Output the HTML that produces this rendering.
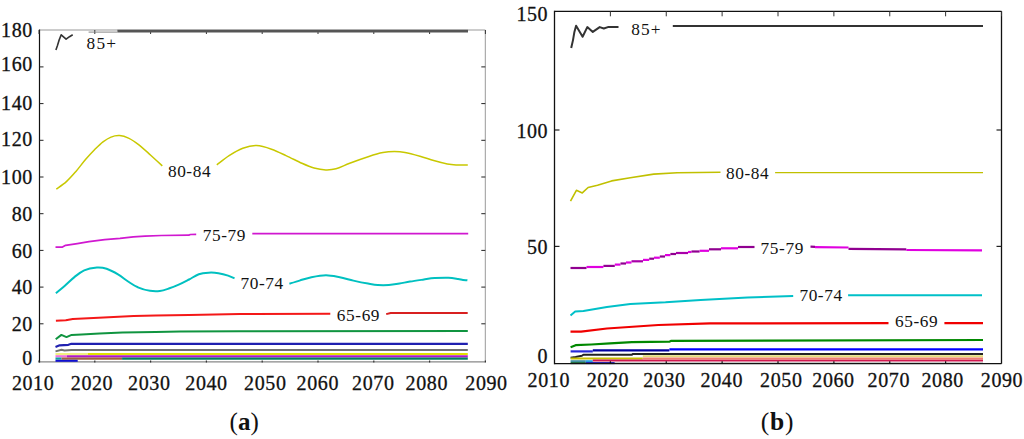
<!DOCTYPE html>
<html><head><meta charset="utf-8"><title>Chart</title>
<style>
html,body{margin:0;padding:0;background:#fff;}
body{width:1024px;height:439px;overflow:hidden;}
svg{display:block;}
text{font-family:"Liberation Serif",serif;fill:#111;}
.ax{letter-spacing:0.6px;stroke:#111;stroke-width:0.3px;}
.cl{letter-spacing:0.6px;}
text.s{font-family:"Liberation Sans",sans-serif;letter-spacing:0;}
</style></head>
<body>
<svg width="1024" height="439" viewBox="0 0 1024 439">
<rect width="1024" height="439" fill="#fff"/>
<line x1="39.5" y1="30" x2="485.3" y2="30" stroke="#999" stroke-width="1"/>
<line x1="485.3" y1="30" x2="485.3" y2="361.5" stroke="#999" stroke-width="1"/>
<line x1="39.5" y1="361.9" x2="485.3" y2="361.9" stroke="#888" stroke-width="1.3"/>
<line x1="39.5" y1="29.5" x2="39.5" y2="362.6" stroke="#111" stroke-width="1.2"/>
<line x1="39.5" y1="66.9" x2="43.5" y2="66.9" stroke="#222" stroke-width="1"/>
<line x1="481.3" y1="66.9" x2="485.3" y2="66.9" stroke="#222" stroke-width="1"/>
<line x1="39.5" y1="103.6" x2="43.5" y2="103.6" stroke="#222" stroke-width="1"/>
<line x1="481.3" y1="103.6" x2="485.3" y2="103.6" stroke="#222" stroke-width="1"/>
<line x1="39.5" y1="140.3" x2="43.5" y2="140.3" stroke="#222" stroke-width="1"/>
<line x1="481.3" y1="140.3" x2="485.3" y2="140.3" stroke="#222" stroke-width="1"/>
<line x1="39.5" y1="177" x2="43.5" y2="177" stroke="#222" stroke-width="1"/>
<line x1="481.3" y1="177" x2="485.3" y2="177" stroke="#222" stroke-width="1"/>
<line x1="39.5" y1="213.7" x2="43.5" y2="213.7" stroke="#222" stroke-width="1"/>
<line x1="481.3" y1="213.7" x2="485.3" y2="213.7" stroke="#222" stroke-width="1"/>
<line x1="39.5" y1="250.4" x2="43.5" y2="250.4" stroke="#222" stroke-width="1"/>
<line x1="481.3" y1="250.4" x2="485.3" y2="250.4" stroke="#222" stroke-width="1"/>
<line x1="39.5" y1="287.1" x2="43.5" y2="287.1" stroke="#222" stroke-width="1"/>
<line x1="481.3" y1="287.1" x2="485.3" y2="287.1" stroke="#222" stroke-width="1"/>
<line x1="39.5" y1="323.8" x2="43.5" y2="323.8" stroke="#222" stroke-width="1"/>
<line x1="481.3" y1="323.8" x2="485.3" y2="323.8" stroke="#222" stroke-width="1"/>
<line x1="39" y1="30" x2="39" y2="34" stroke="#333" stroke-width="1"/>
<line x1="39" y1="360.4" x2="39" y2="362.6" stroke="#333" stroke-width="1.2"/>
<line x1="94.8" y1="30" x2="94.8" y2="34" stroke="#333" stroke-width="1"/>
<line x1="94.8" y1="360.4" x2="94.8" y2="362.6" stroke="#333" stroke-width="1.2"/>
<line x1="150.6" y1="30" x2="150.6" y2="34" stroke="#333" stroke-width="1"/>
<line x1="150.6" y1="360.4" x2="150.6" y2="362.6" stroke="#333" stroke-width="1.2"/>
<line x1="206.4" y1="30" x2="206.4" y2="34" stroke="#333" stroke-width="1"/>
<line x1="206.4" y1="360.4" x2="206.4" y2="362.6" stroke="#333" stroke-width="1.2"/>
<line x1="262.2" y1="30" x2="262.2" y2="34" stroke="#333" stroke-width="1"/>
<line x1="262.2" y1="360.4" x2="262.2" y2="362.6" stroke="#333" stroke-width="1.2"/>
<line x1="318" y1="30" x2="318" y2="34" stroke="#333" stroke-width="1"/>
<line x1="318" y1="360.4" x2="318" y2="362.6" stroke="#333" stroke-width="1.2"/>
<line x1="373.8" y1="30" x2="373.8" y2="34" stroke="#333" stroke-width="1"/>
<line x1="373.8" y1="360.4" x2="373.8" y2="362.6" stroke="#333" stroke-width="1.2"/>
<line x1="429.6" y1="30" x2="429.6" y2="34" stroke="#333" stroke-width="1"/>
<line x1="429.6" y1="360.4" x2="429.6" y2="362.6" stroke="#333" stroke-width="1.2"/>
<line x1="485.4" y1="30" x2="485.4" y2="34" stroke="#333" stroke-width="1"/>
<line x1="485.4" y1="360.4" x2="485.4" y2="362.6" stroke="#333" stroke-width="1.2"/>
<text x="32.9" y="37.25" font-size="20" text-anchor="end"  class="ax">180</text>
<text x="32.9" y="71.1" font-size="20" text-anchor="end"  class="ax">160</text>
<text x="32.9" y="109.8" font-size="20" text-anchor="end"  class="ax">140</text>
<text x="32.9" y="146.2" font-size="20" text-anchor="end"  class="ax">120</text>
<text x="32.9" y="184.2" font-size="20" text-anchor="end"  class="ax">100</text>
<text x="32.9" y="221.4" font-size="20" text-anchor="end"  class="ax">80</text>
<text x="32.9" y="258.25" font-size="20" text-anchor="end"  class="ax">60</text>
<text x="32.9" y="294.4" font-size="20" text-anchor="end"  class="ax">40</text>
<text x="32.9" y="331.1" font-size="20" text-anchor="end"  class="ax">20</text>
<text x="32.9" y="365.3" font-size="20" text-anchor="end"  class="ax">0</text>
<text x="33.1" y="389.6" font-size="20" text-anchor="middle"  class="ax">2010</text>
<text x="92.0" y="389.6" font-size="20" text-anchor="middle"  class="ax">2020</text>
<text x="149.3" y="389.6" font-size="20" text-anchor="middle"  class="ax">2030</text>
<text x="206.5" y="389.6" font-size="20" text-anchor="middle"  class="ax">2040</text>
<text x="265.3" y="389.6" font-size="20" text-anchor="middle"  class="ax">2050</text>
<text x="317.8" y="389.6" font-size="20" text-anchor="middle"  class="ax">2060</text>
<text x="373.3" y="389.6" font-size="20" text-anchor="middle"  class="ax">2070</text>
<text x="426.8" y="389.6" font-size="20" text-anchor="middle"  class="ax">2080</text>
<text x="486.5" y="389.6" font-size="20" text-anchor="middle"  class="ax">2090</text>
<polyline points="55.9,49.9 57.3,46.0 59.3,39.6 61.2,34.8 66.1,39.2 69.5,36.7 72.7,34.8" fill="none" stroke="#333" stroke-width="1.6" stroke-linejoin="round" stroke-linecap="butt" />
<line x1="88.6" y1="32.1" x2="117.4" y2="32.1" stroke="#777" stroke-width="0.9"/>
<line x1="117.4" y1="31.1" x2="468" y2="31.1" stroke="#555" stroke-width="2.6"/>
<path d="M56.3,189.2 C58.0,187.9 63.1,184.5 66.4,181.6 C69.7,178.7 72.7,175.2 75.9,171.5 C79.1,167.8 82.4,163.2 85.5,159.6 C88.6,156.0 91.6,152.8 94.5,149.8 C97.4,146.9 100.2,144.0 103.0,141.9 C105.8,139.8 108.2,138.2 111.0,137.1 C113.8,136.0 116.7,135.4 119.6,135.6 C122.5,135.8 125.3,136.6 128.5,138.1 C131.7,139.6 135.2,142.0 138.9,144.8 C142.6,147.7 146.8,151.7 150.7,155.2 C154.6,158.7 160.4,164.1 162.3,165.9" fill="none" stroke="#c8c800" stroke-width="1.5" stroke-linejoin="round"/>
<path d="M216.8,164.9 C218.9,163.4 224.8,158.5 229.1,155.7 C233.4,152.9 238.2,150.0 242.8,148.3 C247.4,146.6 251.6,145.4 256.4,145.6 C261.2,145.8 266.6,147.5 271.5,149.2 C276.4,150.9 280.9,153.2 286.0,155.6 C291.1,157.9 297.2,161.2 301.9,163.3 C306.6,165.4 310.0,166.9 314.0,168.0 C318.0,169.1 322.1,169.8 325.8,169.9 C329.5,170.0 332.0,169.9 336.0,168.8 C340.0,167.7 344.2,165.4 349.7,163.3 C355.2,161.2 363.3,158.3 368.9,156.5 C374.4,154.7 378.8,153.4 383.0,152.6 C387.2,151.8 390.7,151.6 394.4,151.6 C398.1,151.6 400.7,151.7 405.0,152.5 C409.3,153.3 415.2,154.9 420.0,156.2 C424.8,157.5 429.1,159.2 433.7,160.5 C438.2,161.8 443.6,163.2 447.3,163.9 C451.0,164.6 452.6,164.7 456.0,164.9 C459.4,165.1 465.8,164.9 467.8,164.9" fill="none" stroke="#c8c800" stroke-width="1.5" stroke-linejoin="round"/>
<polyline points="55.5,247.1 62.5,247.1 65.6,245.3 77.3,243.6 89.0,241.7 104.7,239.7 120.0,238.4 133.3,236.9 145.0,236.2 161.4,235.5 188.8,235.2 190.3,234.5 196.2,234.4" fill="none" stroke="#d018d0" stroke-width="1.7" stroke-linejoin="round" stroke-linecap="butt" />
<polyline points="252.3,233.6 468.2,233.6" fill="none" stroke="#d018d0" stroke-width="1.9" stroke-linejoin="round" stroke-linecap="butt" />
<path d="M55.9,293.2 C57.3,292.0 61.5,288.6 64.6,285.9 C67.7,283.2 71.1,279.7 74.4,277.1 C77.7,274.5 80.5,271.9 84.2,270.3 C88.0,268.7 93.2,267.9 96.9,267.6 C100.6,267.4 103.0,267.6 106.6,268.8 C110.2,270.0 114.8,272.5 118.4,274.6 C122.0,276.7 124.8,279.4 128.1,281.5 C131.3,283.6 134.2,285.8 137.9,287.3 C141.6,288.9 146.3,290.2 150.0,290.8 C153.7,291.4 156.6,291.4 159.8,291.0 C163.1,290.6 166.2,289.4 169.5,288.3 C172.8,287.2 176.0,285.9 179.3,284.4 C182.6,282.9 185.8,281.2 189.1,279.5 C192.3,277.8 195.6,275.3 198.8,274.2 C202.1,273.1 205.3,272.9 208.6,272.7 C211.9,272.5 215.2,272.7 218.4,273.2 C221.7,273.7 225.4,274.7 228.1,275.6 C230.8,276.5 233.4,277.9 234.5,278.4" fill="none" stroke="#00c0c0" stroke-width="2" stroke-linejoin="round"/>
<path d="M289.4,283.8 C291.1,283.2 295.9,281.7 299.6,280.6 C303.3,279.5 307.0,278.1 311.4,277.2 C315.8,276.3 321.3,275.2 326.0,275.2 C330.7,275.2 335.1,276.3 339.7,277.2 C344.3,278.1 348.7,279.5 353.4,280.6 C358.1,281.7 363.9,282.9 368.0,283.6 C372.1,284.3 374.3,284.8 377.8,285.0 C381.3,285.2 385.2,285.2 388.8,285.0 C392.4,284.8 396.0,284.1 399.5,283.5 C403.0,282.9 405.9,282.3 410.0,281.6 C414.1,280.9 419.8,280.1 423.9,279.5 C428.0,278.9 430.6,278.4 434.7,278.1 C438.8,277.8 444.5,277.6 448.4,277.7 C452.3,277.8 455.7,278.6 458.1,279.0 C460.5,279.4 461.4,279.8 463.0,280.0 C464.6,280.2 466.7,280.2 467.4,280.3" fill="none" stroke="#00c0c0" stroke-width="2" stroke-linejoin="round"/>
<polyline points="55.9,320.8 65.8,320.3 72.8,318.9 98.6,317.7 133.7,316.1 155.6,315.4 189.0,315.0 240.0,314.1 330.3,313.8" fill="none" stroke="#f41818" stroke-width="2" stroke-linejoin="round" stroke-linecap="butt" />
<polyline points="386.2,314.1 390.7,313.0 467.7,313.0" fill="none" stroke="#d82020" stroke-width="2" stroke-linejoin="round" stroke-linecap="butt" />
<polyline points="55.7,339.2 61.4,334.9 66.5,337.1 71.6,334.9 81.7,334.5 99.5,333.6 122.4,332.6 155.4,332.0 180.0,331.4 239.2,331.2 467.8,330.9" fill="none" stroke="#109440" stroke-width="2" stroke-linejoin="round" stroke-linecap="butt" />
<polyline points="55.5,346.9 59.6,345.3 68.4,344.8 71.4,343.8 467.8,343.8" fill="none" stroke="#2020b0" stroke-width="2.2" stroke-linejoin="round" stroke-linecap="butt" />
<polyline points="55.5,351.4 61.6,349.8 64.5,350.4 71.4,350.1 467.8,350.1" fill="none" stroke="#707070" stroke-width="2" stroke-linejoin="round" stroke-linecap="butt" />
<line x1="55.5" y1="354.1" x2="88" y2="354.1" stroke="#f0f080" stroke-width="2.2"/>
<line x1="88" y1="354" x2="467.8" y2="354" stroke="#e0e000" stroke-width="2.2"/>
<line x1="55.5" y1="356.3" x2="67" y2="356.3" stroke="#f070e0" stroke-width="2.2"/>
<line x1="67" y1="356.3" x2="467.8" y2="356.3" stroke="#b018c8" stroke-width="2.2"/>
<line x1="55.5" y1="358.6" x2="61.6" y2="358.6" stroke="#10a0a0" stroke-width="2.2"/>
<line x1="61.6" y1="358.6" x2="122.1" y2="358.6" stroke="#a06040" stroke-width="2.2"/>
<line x1="122.1" y1="358.6" x2="467.8" y2="358.6" stroke="#008060" stroke-width="2.2"/>
<line x1="55.5" y1="360.8" x2="77.7" y2="360.8" stroke="#1010d0" stroke-width="2"/>
<text x="86.6" y="49.4" font-size="17.3" text-anchor="start" style="letter-spacing:1.2px" class="cl">85+</text>
<text x="167.9" y="177.4" font-size="17.3" text-anchor="start"  class="cl">80-84</text>
<text x="202.7" y="241" font-size="17.3" text-anchor="start"  class="cl">75-79</text>
<text x="240.5" y="289.2" font-size="17.3" text-anchor="start"  class="cl">70-74</text>
<text x="336.8" y="321.4" font-size="17.3" text-anchor="start"  class="cl">65-69</text>
<line x1="554.5" y1="11.3" x2="1001.5" y2="11.3" stroke="#111" stroke-width="1.3"/>
<line x1="1001.5" y1="11.3" x2="1001.5" y2="363.7" stroke="#111" stroke-width="1.3"/>
<line x1="554.5" y1="130" x2="559.5" y2="130" stroke="#222" stroke-width="1.2"/>
<line x1="996.5" y1="130" x2="1001.5" y2="130" stroke="#222" stroke-width="1.2"/>
<line x1="554.5" y1="246.4" x2="559.5" y2="246.4" stroke="#222" stroke-width="1.2"/>
<line x1="996.5" y1="246.4" x2="1001.5" y2="246.4" stroke="#222" stroke-width="1.2"/>
<line x1="554.5" y1="11.3" x2="554.5" y2="16.3" stroke="#333" stroke-width="1"/>
<line x1="610.38" y1="11.3" x2="610.38" y2="16.3" stroke="#333" stroke-width="1"/>
<line x1="666.25" y1="11.3" x2="666.25" y2="16.3" stroke="#333" stroke-width="1"/>
<line x1="722.12" y1="11.3" x2="722.12" y2="16.3" stroke="#333" stroke-width="1"/>
<line x1="778" y1="11.3" x2="778" y2="16.3" stroke="#333" stroke-width="1"/>
<line x1="833.88" y1="11.3" x2="833.88" y2="16.3" stroke="#333" stroke-width="1"/>
<line x1="889.75" y1="11.3" x2="889.75" y2="16.3" stroke="#333" stroke-width="1"/>
<line x1="945.62" y1="11.3" x2="945.62" y2="16.3" stroke="#333" stroke-width="1"/>
<line x1="1001.5" y1="11.3" x2="1001.5" y2="16.3" stroke="#333" stroke-width="1"/>
<text x="548.2" y="20.6" font-size="20" text-anchor="end"  class="ax">150</text>
<text x="548.2" y="138.25" font-size="20" text-anchor="end"  class="ax">100</text>
<text x="548.2" y="254.4" font-size="20" text-anchor="end"  class="ax">50</text>
<text x="548.2" y="362.5" font-size="20" text-anchor="end"  class="ax">0</text>
<text x="548.8" y="387.3" font-size="20" text-anchor="middle"  class="ax">2010</text>
<text x="607.9" y="387.3" font-size="20" text-anchor="middle"  class="ax">2020</text>
<text x="664.4" y="387.3" font-size="20" text-anchor="middle"  class="ax">2030</text>
<text x="721.8" y="387.3" font-size="20" text-anchor="middle"  class="ax">2040</text>
<text x="781.3" y="387.3" font-size="20" text-anchor="middle"  class="ax">2050</text>
<text x="833.5" y="387.3" font-size="20" text-anchor="middle"  class="ax">2060</text>
<text x="888.8" y="387.3" font-size="20" text-anchor="middle"  class="ax">2070</text>
<text x="942.7" y="387.3" font-size="20" text-anchor="middle"  class="ax">2080</text>
<text x="1002.0" y="387.3" font-size="20" text-anchor="middle"  class="ax">2090</text>
<polyline points="571.2,48.0 573.0,40.1 574.4,31.9 576.1,25.7 582.6,36.7 587.3,27.1 592.8,31.9 599.7,27.1 603.8,28.5 607.9,27.1 618.5,27.1" fill="none" stroke="#333" stroke-width="2" stroke-linejoin="round" stroke-linecap="butt" />
<line x1="672.8" y1="26" x2="983" y2="26" stroke="#333" stroke-width="2.2"/>
<polyline points="570.5,201.1 576.4,190.3 582.3,192.9 588.1,187.5 597.5,185.2 611.6,180.9 630.3,177.7 653.7,174.1 677.2,172.7 720.5,172.3" fill="none" stroke="#c0c000" stroke-width="1.6" stroke-linejoin="round" stroke-linecap="butt" />
<line x1="775.1" y1="172.6" x2="983" y2="172.6" stroke="#c0c000" stroke-width="1.3"/>
<line x1="570.5" y1="268" x2="586.5" y2="268" stroke="#900090" stroke-width="2.2"/>
<line x1="586.5" y1="267" x2="603.4" y2="267" stroke="#e000e0" stroke-width="2.2"/>
<line x1="603.4" y1="265.9" x2="614.8" y2="265.9" stroke="#900090" stroke-width="2.2"/>
<line x1="614.8" y1="264.6" x2="620.5" y2="264.6" stroke="#e000e0" stroke-width="2.2"/>
<line x1="620.5" y1="263.5" x2="626" y2="263.5" stroke="#900090" stroke-width="2.2"/>
<line x1="626" y1="262.5" x2="631.5" y2="262.5" stroke="#e000e0" stroke-width="2.2"/>
<line x1="631.5" y1="261.3" x2="643" y2="261.3" stroke="#a800a8" stroke-width="2.2"/>
<line x1="643" y1="259.9" x2="649.2" y2="259.9" stroke="#e000e0" stroke-width="2.2"/>
<line x1="649.2" y1="258.7" x2="654" y2="258.7" stroke="#900090" stroke-width="2.2"/>
<line x1="654" y1="257.7" x2="659.8" y2="257.7" stroke="#e000e0" stroke-width="2.2"/>
<line x1="659.8" y1="256.5" x2="665" y2="256.5" stroke="#900090" stroke-width="2.2"/>
<line x1="665" y1="255.1" x2="670.4" y2="255.1" stroke="#e000e0" stroke-width="2.2"/>
<line x1="670.4" y1="254" x2="676" y2="254" stroke="#900090" stroke-width="2.2"/>
<line x1="676" y1="253" x2="688" y2="253" stroke="#a800a8" stroke-width="2.2"/>
<line x1="688" y1="252" x2="691.5" y2="252" stroke="#e000e0" stroke-width="2.2"/>
<line x1="691.5" y1="251.5" x2="699.6" y2="251.5" stroke="#900090" stroke-width="2.2"/>
<line x1="699.6" y1="250.8" x2="709" y2="250.8" stroke="#e000e0" stroke-width="2.2"/>
<line x1="709" y1="249.3" x2="721" y2="249.3" stroke="#900090" stroke-width="2.2"/>
<line x1="721" y1="248.3" x2="738" y2="248.3" stroke="#e000e0" stroke-width="2.2"/>
<line x1="738" y1="247" x2="754.5" y2="247" stroke="#900090" stroke-width="2.2"/>
<polyline points="810.5,246.6 815.0,246.8" fill="none" stroke="#900090" stroke-width="2.2" stroke-linejoin="round" stroke-linecap="butt" />
<polyline points="815.0,247.2 848.5,247.5" fill="none" stroke="#e000e0" stroke-width="2.2" stroke-linejoin="round" stroke-linecap="butt" />
<polyline points="848.5,248.9 906.3,249.3" fill="none" stroke="#900090" stroke-width="2.2" stroke-linejoin="round" stroke-linecap="butt" />
<polyline points="906.3,250.0 982.0,250.3" fill="none" stroke="#e000e0" stroke-width="2.2" stroke-linejoin="round" stroke-linecap="butt" />
<polyline points="570.5,315.6 575.2,311.6 583.4,310.9 606.9,307.0 630.3,303.9 665.5,302.3 700.6,299.9 747.5,297.6 793.2,295.9" fill="none" stroke="#00c0c8" stroke-width="2" stroke-linejoin="round" stroke-linecap="butt" />
<line x1="848.1" y1="295.2" x2="982" y2="295.2" stroke="#00c0c8" stroke-width="2"/>
<polyline points="570.5,331.6 581.1,331.6 606.9,328.5 658.4,325.0 710.0,323.4 888.5,323.2" fill="none" stroke="#f00000" stroke-width="2.2" stroke-linejoin="round" stroke-linecap="butt" />
<line x1="944.4" y1="323.2" x2="983" y2="323.2" stroke="#f00000" stroke-width="2.2"/>
<polyline points="570.6,347.2 575.6,345.2 591.3,344.5 610.0,343.3 631.9,342.2 669.4,341.7 670.9,340.9 983.0,340.0" fill="none" stroke="#008800" stroke-width="2.2" stroke-linejoin="round" stroke-linecap="butt" />
<polyline points="570.6,351.4 592.8,351.4" fill="none" stroke="#2828d8" stroke-width="2.2" stroke-linejoin="round" stroke-linecap="butt" />
<polyline points="592.8,350.3 669.4,350.3" fill="none" stroke="#0000a0" stroke-width="2.2" stroke-linejoin="round" stroke-linecap="butt" />
<polyline points="669.4,349.4 983.0,349.4" fill="none" stroke="#0000ff" stroke-width="2.2" stroke-linejoin="round" stroke-linecap="butt" />
<polyline points="570.6,357.8 575.6,357.0 581.9,355.8 583.4,354.7 631.9,354.7 632.7,354.0 983.0,354.0" fill="none" stroke="#222" stroke-width="2" stroke-linejoin="round" stroke-linecap="butt" />
<line x1="570.6" y1="358.6" x2="642.8" y2="358.6" stroke="#c8c000" stroke-width="2"/>
<line x1="642.8" y1="356.3" x2="983" y2="356.3" stroke="#e4dc78" stroke-width="2"/>
<line x1="570.6" y1="361.2" x2="585.8" y2="361.2" stroke="#4090a0" stroke-width="2"/>
<line x1="585.8" y1="361.2" x2="592.8" y2="361.2" stroke="#20a0e0" stroke-width="2"/>
<line x1="592.8" y1="360.6" x2="983" y2="360.6" stroke="#d01850" stroke-width="2"/>
<line x1="642.8" y1="358.4" x2="983" y2="358.4" stroke="#f08070" stroke-width="2"/>
<line x1="614.7" y1="362.9" x2="983" y2="362.9" stroke="#b8b8b8" stroke-width="1.2"/>
<line x1="570.6" y1="363.1" x2="585.8" y2="363.1" stroke="#106030" stroke-width="2"/>
<line x1="585.8" y1="363.1" x2="614.7" y2="363.1" stroke="#1010a0" stroke-width="2"/>
<text x="631.2" y="35.4" font-size="17.3" text-anchor="start" style="letter-spacing:1.2px" class="cl">85+</text>
<text x="726" y="178.9" font-size="17.3" text-anchor="start"  class="cl">80-84</text>
<text x="760.6" y="254" font-size="17.3" text-anchor="start"  class="cl">75-79</text>
<text x="799.4" y="300.9" font-size="17.3" text-anchor="start"  class="cl">70-74</text>
<text x="895" y="327" font-size="17.3" text-anchor="start"  class="cl">65-69</text>
<line x1="554.5" y1="363.7" x2="1001.5" y2="363.7" stroke="#111" stroke-width="1.3"/>
<line x1="554.5" y1="10.7" x2="554.5" y2="364.3" stroke="#111" stroke-width="1.3"/>
<line x1="610.38" y1="363.7" x2="610.38" y2="361.2" stroke="#111" stroke-width="1.2"/>
<line x1="666.25" y1="363.7" x2="666.25" y2="361.2" stroke="#111" stroke-width="1.2"/>
<line x1="722.12" y1="363.7" x2="722.12" y2="361.2" stroke="#111" stroke-width="1.2"/>
<line x1="778" y1="363.7" x2="778" y2="361.2" stroke="#111" stroke-width="1.2"/>
<line x1="833.88" y1="363.7" x2="833.88" y2="361.2" stroke="#111" stroke-width="1.2"/>
<line x1="889.75" y1="363.7" x2="889.75" y2="361.2" stroke="#111" stroke-width="1.2"/>
<line x1="945.62" y1="363.7" x2="945.62" y2="361.2" stroke="#111" stroke-width="1.2"/>
<text x="229.6" y="430.2" font-size="25.5" textLength="29.2" lengthAdjust="spacingAndGlyphs">(<tspan font-weight="bold">a</tspan>)</text>
<text x="760.8" y="430.2" font-size="25.5" letter-spacing="0.7">(<tspan font-weight="bold">b</tspan>)</text>
</svg>
</body></html>
